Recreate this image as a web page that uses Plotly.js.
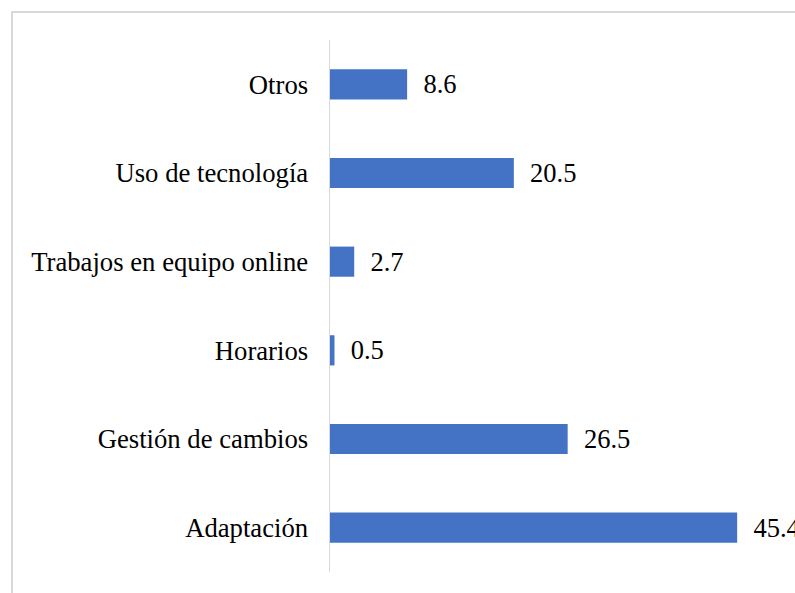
<!DOCTYPE html>
<html>
<head>
<meta charset="utf-8">
<script src="https://cdn.plot.ly/plotly-3.0.1.min.js"></script>
<style>
html,body{margin:0;padding:0;background:#fff;overflow:hidden;}
#chart{width:795px;height:593px;}
</style>
</head>
<body>
<div id="chart"></div>
<script>
const categories = ["Adaptación", "Gestión de cambios", "Horarios", "Trabajos en equipo online", "Uso de tecnología", "Otros"];
const values = [45.4, 26.5, 0.5, 2.7, 20.5, 8.6];
const valueLabels = ["45.4", "26.5", "0.5", "2.7", "20.5", "8.6"];

const FONT = "Liberation Serif";
const pad = "\u00a0\u00a0";
const trace = {
  type: "bar",
  orientation: "h",
  y: categories,
  x: values,
  text: valueLabels.map(t => pad + t),
  textposition: "outside",
  constraintext: "none",
  cliponaxis: false,
  textfont: {family: FONT, size: 26.5, color: "#000"},
  marker: {color: "#4472C4"},
  hoverinfo: "skip"
};

const layout = {
  width: 795,
  height: 593,
  margin: {l: 330, r: 0, t: 40, b: 21, pad: 0},
  paper_bgcolor: "#fff",
  plot_bgcolor: "#fff",
  showlegend: false,
  bargap: 0.66,
  font: {family: FONT, size: 26.5, color: "#000"},
  xaxis: {
    range: [0, 51.85],
    showgrid: false,
    zeroline: false,
    showticklabels: false,
    showline: false,
    ticks: ""
  },
  yaxis: {
    range: [-0.5, 5.5],
    type: "category",
    showgrid: false,
    zeroline: false,
    showline: true,
    linecolor: "#d9d9d9",
    linewidth: 1.5,
    ticks: "outside",
    ticklen: 15,
    tickcolor: "rgba(0,0,0,0)",
    tickfont: {family: FONT, size: 26.7, color: "#000"}
  },
  shapes: [{
    type: "rect",
    xref: "paper", yref: "paper",
    x0: (12 - 330) / 465, x1: 1.2,
    y0: -0.2, y1: (572 - 12) / 532,
    line: {color: "#d9d9d9", width: 2},
    fillcolor: "rgba(0,0,0,0)",
    layer: "below"
  }]
};

Plotly.newPlot("chart", [trace], layout, {staticPlot: true, displayModeBar: false});
</script>
</body>
</html>
